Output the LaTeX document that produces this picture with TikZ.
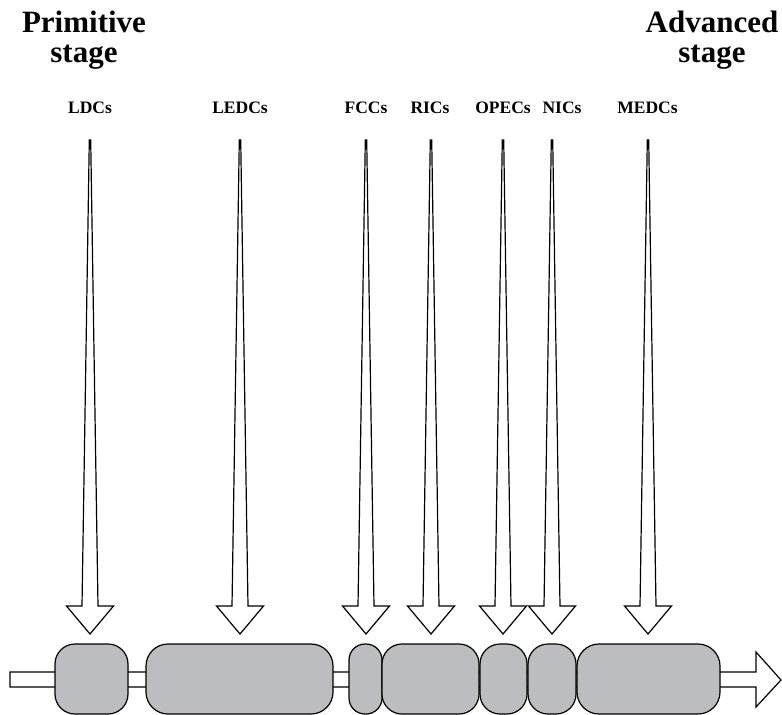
\documentclass[tikz,border=0pt]{standalone}
\usepackage{fontspec}
\setmainfont{Liberation Serif}
\definecolor{boxgray}{RGB}{188,189,192}
\begin{document}
\begin{tikzpicture}[x=1pt,y=-1pt,line width=1.2pt,
  lbl/.style={font=\bfseries\fontsize{17.5}{20}\selectfont, inner sep=0pt},
  ttl/.style={font=\bfseries\fontsize{31}{30}\selectfont, align=center, inner sep=0pt},
  stagebox/.style={draw, fill=boxgray, rounded corners=#1, inner sep=0pt, minimum height=70pt},
  hollow/.style={draw, fill=white, line join=miter}]
\useasboundingbox (0,0) rectangle (782,715);

% titles
\node[ttl] (prim) at (84,40) {Primitive\\stage};
\node[ttl] (adv) at (712,40) {Advanced\\stage};

% horizontal development axis
\coordinate (barstart) at (10,679.5);
\coordinate (bartip) at (781,680);
\draw[hollow] (barstart) ++(0,-7.5) -- (756,672) -- (756,652) -- (bartip)
  -- (756,707) -- (756,687) -- (10,687) -- cycle;

% stage boxes
\node[stagebox=20, minimum width=73pt]  (bLDC)   at (91.5,679) {};
\node[stagebox=22, minimum width=187pt] (bLEDC)  at (239.5,679) {};
\node[stagebox=16, minimum width=33pt]  (bFCC)   at (365.5,679) {};
\node[stagebox=20, minimum width=97pt]  (bRIC)   at (430.5,679) {};
\node[stagebox=20, minimum width=47pt]  (bOPEC)  at (503.5,679) {};
\node[stagebox=20, minimum width=48pt]  (bNIC)   at (552,679) {};
\node[stagebox=22, minimum width=143pt] (bMEDC)  at (648.5,679) {};

% labels and downward arrows
\foreach \n/\x/\tx/\t in {LDC/90/90/LDCs, LEDC/240/240/LEDCs, FCC/366/366/FCCs,
    RIC/431/430/RICs, OPEC/503/503/OPECs, NIC/552/562/NICs, MEDC/648/647.5/MEDCs}{
  \node[lbl, anchor=base] (l\n) at (\tx,113) {\t};
  \coordinate (a\n) at (\x,140);
  \coordinate (t\n) at (\x,634);
  \draw[hollow] (a\n) ++(-0.7,0) -- ++(1.4,0) -- ++(7.3,466) -- ++(15.5,0)
    -- (t\n) -- ++(-23.5,-28) -- ++(15.5,0) -- cycle;
}
\end{tikzpicture}
\end{document}
